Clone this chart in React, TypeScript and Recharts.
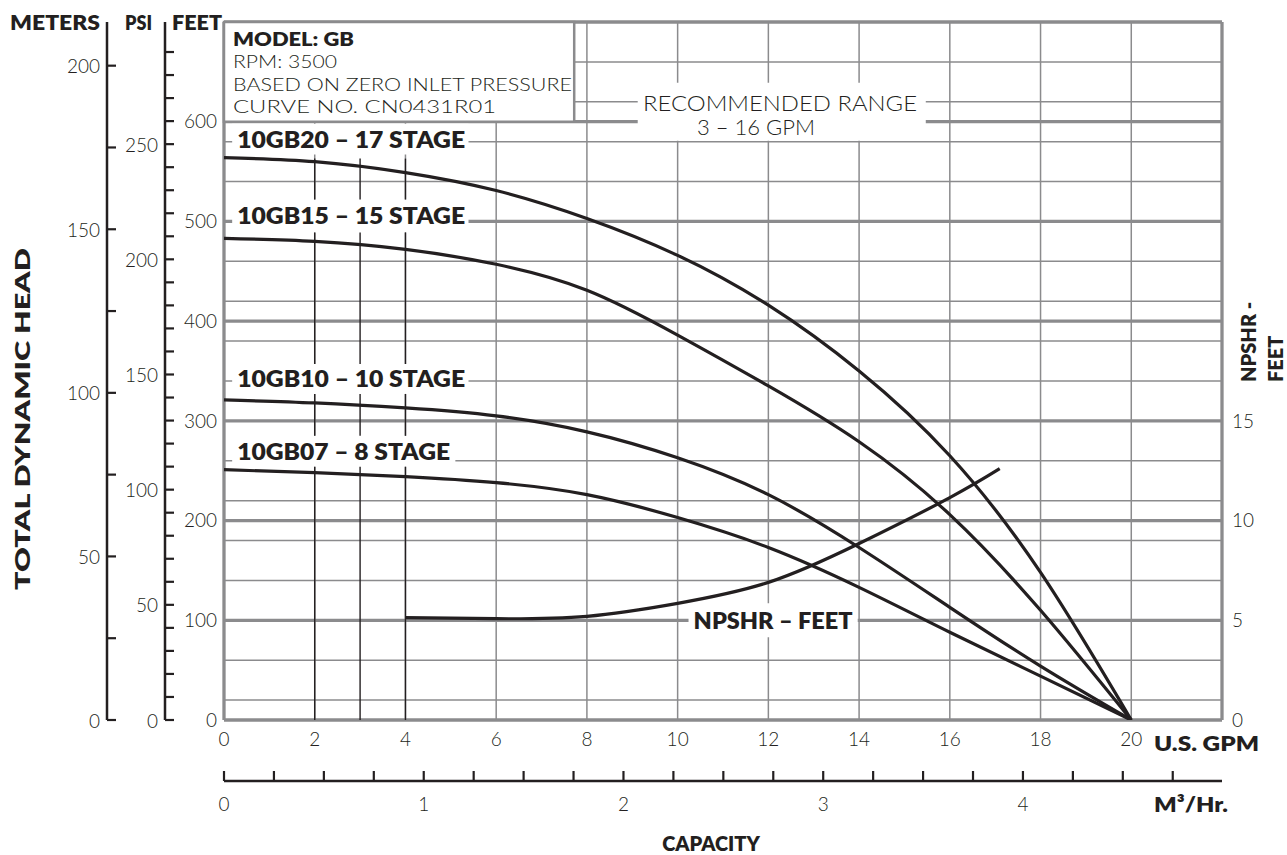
import React from "react";
import {
  LineChart,
  Line,
  XAxis,
  YAxis,
  CartesianGrid,
  ReferenceArea,
  ReferenceLine,
} from "recharts";

// flow points (U.S. GPM) where the head curves were read
const gpmPoints = [0, 2, 4, 6, 8, 10, 12, 14, 16, 18, 20];
// total dynamic head in feet for each model
const gb20Head = [564, 560, 549, 531, 503, 466, 416, 350, 265, 148, 0];
const gb15Head = [483, 480, 472, 457, 431, 386, 335, 279, 206, 110, 0];
const gb10Head = [321, 318, 313, 305, 289, 263, 226, 173, 113, 54, 0];
const gb07Head = [251, 248, 244, 238, 226, 203, 173, 133, 88, 44, 0];

// NPSHR curve (feet of NPSHR)
const npshGpm = [4, 6, 8, 10, 12, 14, 16, 17.1];
const npshFeet = [5.13, 5.08, 5.2, 5.85, 6.9, 8.85, 11.15, 12.6];

// axis ticks
const gpmTicks = [0, 2, 4, 6, 8, 10, 12, 14, 16, 18, 20, 22];
const edgeTicks = [0, 22];
const feetTicks = [0, 100, 200, 300, 400, 500, 600, 700];
const feetMinorTicks = [
  0, 20, 40, 60, 80, 100, 120, 140, 160, 180, 200, 220, 240, 260, 280, 300, 320, 340,
  360, 380, 400, 420, 440, 460, 480, 500, 520, 540, 560, 580, 600, 620, 640, 660, 680, 700,
];
const psiTicks = [
  0, 10, 20, 30, 40, 50, 60, 70, 80, 90, 100, 110, 120, 130, 140, 150, 160, 170, 180,
  190, 200, 210, 220, 230, 240, 250, 260, 270, 280, 290,
];
const meterTicks = [0, 25, 50, 75, 100, 125, 150, 175, 200];
const m3Ticks = [
  0, 0.25, 0.5, 0.75, 1, 1.25, 1.5, 1.75, 2, 2.25, 2.5, 2.75, 3, 3.25, 3.5, 3.75, 4, 4.25,
  4.5, 4.75,
];
const npshTicks = [0, 5, 10, 15];

// stage labels: [text, feet bottom, feet top, gpm right, text width]
const stageLabels: [string, number, number, number, number][] = [
  ["10GB20 – 17 STAGE", 567, 598, 5.39, 228],
  ["10GB15 – 15 STAGE", 489, 522, 5.39, 228],
  ["10GB10 – 10 STAGE", 327, 357, 5.39, 228],
  ["10GB07 – 8 STAGE", 254, 285, 5.1, 213],
];
// black guide lines at 2, 3 and 4 gpm, split round the label boxes
const guideGpm = [2, 3, 4];
const guideSpans = [
  [0, 254],
  [285, 327],
  [357, 489],
  [522, 563],
];

const FT_MAX = 700;
const FT_PER_M = 3.281;
const FT_PER_PSI = 2.31;
const GPM_PER_M3H = 4.403;

const INK = "#231f20";
const GRID = "#8b8b8d";
const FONT = "Lato, 'Open Sans', sans-serif";
const TICK_SIZE = 19;

const headRows = gpmPoints.map((g, i) => ({
  gpm: g,
  m3h: g / GPM_PER_M3H,
  gb20: gb20Head[i],
  gb15: gb15Head[i],
  gb10: gb10Head[i],
  gb07: gb07Head[i],
}));
const npshRows = npshGpm.map((g, i) => ({ gpm: g, npsh: npshFeet[i] }));

function SideTick(props: any) {
  const { x, y, payload, step } = props;
  const v = payload.value;
  return (
    <g>
      <line x1={x} x2={x + 9} y1={y} y2={y} stroke={INK} strokeWidth={2.2} />
      {v % step === 0 && (
        <text
          x={x - 7}
          y={y}
          textAnchor="end"
          dominantBaseline="central"
          fontSize={TICK_SIZE}
          fontFamily={FONT}
          fontWeight={300}
          fill={INK}
        >
          {v}
        </text>
      )}
    </g>
  );
}

function FlowTick(props: any) {
  const { x, y, payload } = props;
  const v = payload.value;
  const whole = Math.abs(v - Math.round(v)) < 1e-6;
  return (
    <g>
      <line x1={x} x2={x} y1={y} y2={y - 10} stroke={INK} strokeWidth={2.2} />
      {whole && (
        <text
          x={x}
          y={y + 22}
          textAnchor="middle"
          dominantBaseline="central"
          fontSize={TICK_SIZE}
          fontFamily={FONT}
          fontWeight={300}
          fill={INK}
        >
          {Math.round(v)}
        </text>
      )}
    </g>
  );
}

// bold text drawn inside a white label box
const boxText = (text: string, width: number, centered: boolean) => (props: any) => {
  const vb = props.viewBox || {};
  return (
    <text
      x={centered ? vb.x + vb.width / 2 : vb.x + 5}
      y={vb.y + vb.height / 2}
      textAnchor={centered ? "middle" : "start"}
      dominantBaseline="central"
      fontSize={22}
      fontWeight={800}
      fontFamily={FONT}
      fill={INK}
      textLength={width}
      lengthAdjust="spacingAndGlyphs"
    >
      {text}
    </text>
  );
};

const tickText = { fontSize: TICK_SIZE, fill: INK, fontFamily: FONT, fontWeight: 300 };

export default function App() {
  return (
    <div style={{ position: "absolute", left: 0, top: 0, width: 1287, height: 855, background: "#fff" }}>
      <LineChart
        width={1287}
        height={855}
        data={headRows}
        margin={{ top: 22, right: 0, bottom: 34, left: 0 }}
      >
        <XAxis
          xAxisId="a_gpm"
          dataKey="gpm"
          type="number"
          domain={[0, 22]}
          allowDataOverflow
          ticks={gpmTicks}
          interval={0}
          height={61}
          tickSize={0}
          tickMargin={13}
          tickLine={false}
          axisLine={false}
          tick={tickText}
          tickFormatter={(v: number) => (v === 22 ? "" : String(v))}
        />
        <XAxis
          xAxisId="b_m3"
          dataKey="m3h"
          type="number"
          domain={[0, 22 / GPM_PER_M3H]}
          allowDataOverflow
          ticks={m3Ticks}
          interval={0}
          height={40}
          tickSize={0}
          tickMargin={0}
          tickLine={false}
          axisLine={{ stroke: INK, strokeWidth: 2.5 }}
          tick={(p: any) => <FlowTick {...p} />}
        />
        <XAxis xAxisId="z_edge" hide height={0} type="number" domain={[0, 22]} ticks={edgeTicks} allowDataOverflow />

        <YAxis
          yAxisId="a_ft"
          type="number"
          domain={[0, FT_MAX]}
          allowDataOverflow
          ticks={feetTicks}
          interval={0}
          width={59}
          tickSize={0}
          tickMargin={7}
          tickLine={false}
          axisLine={false}
          tick={tickText}
          tickFormatter={(v: number) => (v === 700 ? "" : String(v))}
        />
        <YAxis
          yAxisId="b_psi"
          type="number"
          domain={[0, FT_MAX / FT_PER_PSI]}
          allowDataOverflow
          ticks={psiTicks}
          interval={0}
          width={58}
          tickSize={0}
          tickMargin={0}
          tickLine={false}
          axisLine={{ stroke: INK, strokeWidth: 2.5 }}
          tick={(p: any) => <SideTick {...p} step={50} />}
        />
        <YAxis
          yAxisId="c_m"
          type="number"
          domain={[0, FT_MAX / FT_PER_M]}
          allowDataOverflow
          ticks={meterTicks}
          interval={0}
          width={107}
          tickSize={0}
          tickMargin={0}
          tickLine={false}
          axisLine={{ stroke: INK, strokeWidth: 2.5 }}
          tick={(p: any) => <SideTick {...p} step={50} />}
        />
        <YAxis yAxisId="z_minor" hide width={0} type="number" domain={[0, FT_MAX]} ticks={feetMinorTicks} allowDataOverflow />
        <YAxis
          yAxisId="d_npsh"
          orientation="right"
          type="number"
          domain={[0, 35]}
          allowDataOverflow
          ticks={npshTicks}
          interval={0}
          width={65}
          tickSize={0}
          tickMargin={10}
          tickLine={false}
          axisLine={false}
          tick={tickText}
        />

        {/* thin grid every 2 gpm / 20 ft, heavy lines every 100 ft and at the frame */}
        <CartesianGrid xAxisId="a_gpm" yAxisId="z_minor" stroke={GRID} strokeWidth={1.5} />
        <CartesianGrid xAxisId="a_gpm" yAxisId="a_ft" vertical={false} stroke={GRID} strokeWidth={3.3} />
        <CartesianGrid xAxisId="z_edge" yAxisId="a_ft" horizontal={false} stroke={GRID} strokeWidth={3.3} />

        {/* info box */}
        <ReferenceArea
          xAxisId="a_gpm"
          yAxisId="a_ft"
          x1={0}
          x2={7.72}
          y1={600}
          y2={700}
          fill="#fff"
          fillOpacity={1}
          stroke={GRID}
          strokeWidth={2.5}
        />
        {/* recommended range note */}
        <ReferenceArea
          xAxisId="a_gpm"
          yAxisId="a_ft"
          x1={9.12}
          x2={15.47}
          y1={581}
          y2={639}
          fill="#fff"
          fillOpacity={1}
          stroke="none"
        />
        {stageLabels.map(([text, lo, hi, right, w]) => (
          <ReferenceArea
            key={text}
            xAxisId="a_gpm"
            yAxisId="a_ft"
            x1={0.18}
            x2={right}
            y1={lo}
            y2={hi}
            fill="#fff"
            fillOpacity={1}
            stroke="none"
            label={{ content: boxText(text, w, false) }}
          />
        ))}
        <ReferenceArea
          xAxisId="a_gpm"
          yAxisId="a_ft"
          x1={10.24}
          x2={13.97}
          y1={83}
          y2={117}
          fill="#fff"
          fillOpacity={1}
          stroke="none"
          label={{ content: boxText("NPSHR – FEET", 159, true) }}
        />

        {guideGpm.map((g) =>
          guideSpans.map(([a, b]) => (
            <ReferenceLine
              key={`${g}-${a}`}
              xAxisId="a_gpm"
              yAxisId="a_ft"
              segment={[
                { x: g, y: a },
                { x: g, y: b },
              ]}
              stroke={INK}
              strokeWidth={1.4}
            />
          ))
        )}

        <Line xAxisId="a_gpm" yAxisId="a_ft" type="natural" dataKey="gb20" stroke={INK} strokeWidth={3.2} dot={false} isAnimationActive={false} />
        <Line xAxisId="a_gpm" yAxisId="a_ft" type="natural" dataKey="gb15" stroke={INK} strokeWidth={3.2} dot={false} isAnimationActive={false} />
        <Line xAxisId="a_gpm" yAxisId="a_ft" type="natural" dataKey="gb10" stroke={INK} strokeWidth={3.2} dot={false} isAnimationActive={false} />
        <Line xAxisId="a_gpm" yAxisId="a_ft" type="natural" dataKey="gb07" stroke={INK} strokeWidth={3.2} dot={false} isAnimationActive={false} />
        <Line
          xAxisId="a_gpm"
          yAxisId="d_npsh"
          data={npshRows}
          type="natural"
          dataKey="npsh"
          stroke={INK}
          strokeWidth={3.2}
          dot={false}
          isAnimationActive={false}
        />
      </LineChart>

      <svg
        width={1287}
        height={855}
        style={{ position: "absolute", left: 0, top: 0, pointerEvents: "none" }}
        fontFamily={FONT}
        fill={INK}
      >
        <text x={10} y={22} fontSize={20} fontWeight={800} dominantBaseline="central" textLength={90} lengthAdjust="spacingAndGlyphs">
          METERS
        </text>
        <text x={125} y={22} fontSize={20} fontWeight={800} dominantBaseline="central" textLength={27} lengthAdjust="spacingAndGlyphs">
          PSI
        </text>
        <text x={172} y={22} fontSize={20} fontWeight={800} dominantBaseline="central" textLength={50} lengthAdjust="spacingAndGlyphs">
          FEET
        </text>
        <text
          transform="translate(22,419) rotate(-90)"
          textAnchor="middle"
          dominantBaseline="central"
          fontSize={20}
          fontWeight={800}
          textLength={342}
          lengthAdjust="spacingAndGlyphs"
        >
          TOTAL DYNAMIC HEAD
        </text>

        <text x={233} y={38} fontSize={19} fontWeight={800} dominantBaseline="central" textLength={121} lengthAdjust="spacingAndGlyphs">
          MODEL: GB
        </text>
        <text x={233} y={61} fontSize={18} fontWeight={300} dominantBaseline="central" textLength={104} lengthAdjust="spacingAndGlyphs">
          RPM: 3500
        </text>
        <text x={233} y={84} fontSize={18} fontWeight={300} dominantBaseline="central" textLength={339} lengthAdjust="spacingAndGlyphs">
          BASED ON ZERO INLET PRESSURE
        </text>
        <text x={233} y={106} fontSize={18} fontWeight={300} dominantBaseline="central" textLength={263} lengthAdjust="spacingAndGlyphs">
          CURVE NO. CN0431R01
        </text>

        <text x={643} y={102} fontSize={21} fontWeight={300} dominantBaseline="central" textLength={274} lengthAdjust="spacingAndGlyphs">
          RECOMMENDED RANGE
        </text>
        <text x={697} y={126} fontSize={21} fontWeight={300} dominantBaseline="central" textLength={118} lengthAdjust="spacingAndGlyphs">
          3 – 16 GPM
        </text>

        <text x={1154} y={742} fontSize={21} fontWeight={800} dominantBaseline="central" textLength={105} lengthAdjust="spacingAndGlyphs">
          U.S. GPM
        </text>
        <text x={1154} y={803} fontSize={21} fontWeight={800} dominantBaseline="central" textLength={74} lengthAdjust="spacingAndGlyphs">
          M³/Hr.
        </text>
        <text x={711} y={843} fontSize={20} fontWeight={800} textAnchor="middle" dominantBaseline="central">
          CAPACITY
        </text>

        <text transform="translate(1248,382) rotate(-90)" fontSize={20} fontWeight={800} dominantBaseline="central">
          NPSHR -
        </text>
        <text transform="translate(1275,382) rotate(-90)" fontSize={20} fontWeight={800} dominantBaseline="central">
          FEET
        </text>
      </svg>
    </div>
  );
}
